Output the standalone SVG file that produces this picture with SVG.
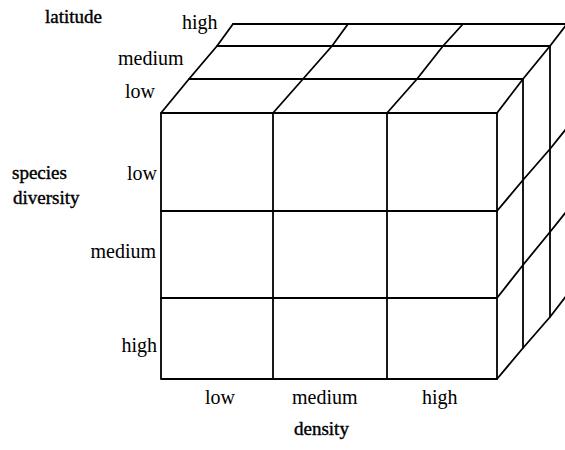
<svg xmlns="http://www.w3.org/2000/svg" width="565" height="450" viewBox="0 0 565 450">
<style>
.ln{fill:none;stroke:#000;stroke-width:1.8;stroke-linejoin:round;stroke-linecap:round}
.t{font-family:"Liberation Serif","Times New Roman",serif;font-size:20px;fill:#000}
.a{font-family:"Liberation Serif","Times New Roman",serif;font-size:19px;fill:#000;stroke:#000;stroke-width:0.4}
</style>
<rect width="565" height="450" fill="#fff"/>
<g id="front-face" class="ln">
<rect x="161" y="113" width="336" height="266"/>
<line x1="273" y1="113" x2="273" y2="379"/>
<line x1="387" y1="113" x2="387" y2="379"/>
<line x1="161" y1="211" x2="497" y2="211"/>
<line x1="161" y1="298" x2="497" y2="298"/>
</g>
<g id="top-face" class="ln">
<line x1="189" y1="79" x2="523" y2="79"/>
<line x1="217" y1="46" x2="550" y2="46"/>
<line x1="233" y1="24" x2="570" y2="24"/>
<polyline points="161,113 189,79 217,46 233,24"/>
<polyline points="273,113 303,79 332,46 348,24"/>
<polyline points="387,113 417,79 443,46 463,24"/>
<polyline points="497,113 523,79 550,46 570,20"/>
</g>
<g id="right-face" class="ln">
<line x1="523" y1="79" x2="523" y2="348"/>
<line x1="550" y1="46" x2="550" y2="317"/>
<polyline points="497,211 523,180 550,149 570,124"/>
<polyline points="497,298 523,265 550,232 570,207"/>
<polyline points="497,379 523,348 550,317 570,291"/>
</g>
<g id="latitude-axis">
<text class="a" x="45" y="23">latitude</text>
<text class="t" x="182" y="29">high</text>
<text class="t" x="118" y="65">medium</text>
<text class="t" x="125" y="98">low</text>
</g>
<g id="diversity-axis">
<text class="a" x="12" y="179">species</text>
<text class="a" x="13" y="204">diversity</text>
<text class="t" x="157" y="180" text-anchor="end">low</text>
<text class="t" x="156" y="258" text-anchor="end">medium</text>
<text class="t" x="157" y="352" text-anchor="end">high</text>
</g>
<g id="density-axis">
<text class="t" x="205" y="404">low</text>
<text class="t" x="292" y="404">medium</text>
<text class="t" x="422" y="404">high</text>
<text class="a" x="294" y="435">density</text>
</g>
</svg>
